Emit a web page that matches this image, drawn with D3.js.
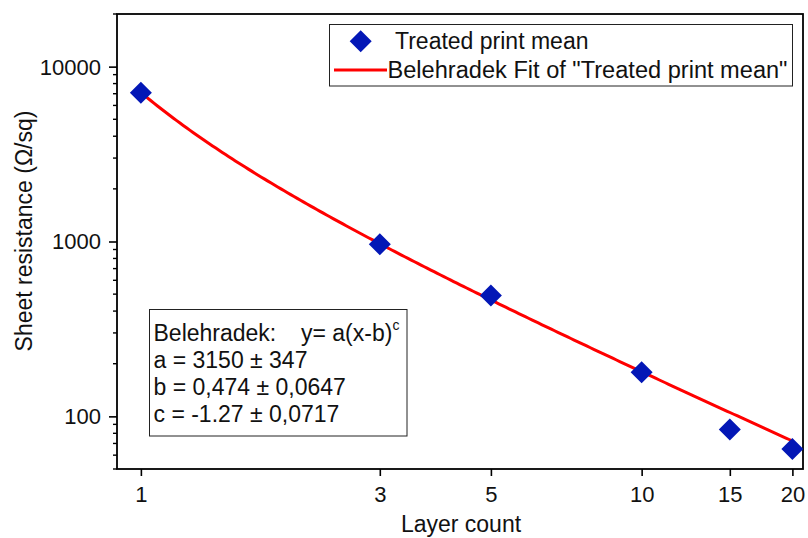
<!DOCTYPE html>
<html>
<head>
<meta charset="utf-8">
<script src="https://cdn.jsdelivr.net/npm/d3@7"></script>
<style>
  html, body { margin: 0; padding: 0; background: #fff; }
  svg { display: block; font-family: "Liberation Sans", Arial, sans-serif; }
</style>
</head>
<body>
<svg id="chart" width="808" height="538"></svg>
<script>
// Measured sheet resistance per number of printed layers
const layers = [1, 3, 5, 10, 15, 20];
const resistance = [7100, 966, 491, 179, 84, 65];

// Belehradek fit parameters: y = a (x - b)^c
const fitNames = ["a", "b", "c"];
const fitValues = [3150, 0.474, -1.27];
const fitErrors = ["347", "0,0647", "0,0717"];
const fitLabels = ["3150", "0,474", "-1.27"];

// Axis ticks
const xTicks = [1, 3, 5, 10, 15, 20];
const yMajor = [100, 1000, 10000];

const seriesName = "Treated print mean";
const fitName = 'Belehradek Fit of "Treated print mean"';

const svg = d3.select("#chart");
const plot = { left: 117, right: 803, top: 14, bottom: 469 };

const x = d3.scaleLog().domain([0.896, 21.0]).range([plot.left, plot.right]);
const y = d3.scaleLog().domain([50, 20000]).range([plot.bottom, plot.top]);

const blue = "#0317b6";
const red = "#ff0000";

// Minor ticks on the log y axis: 2..9 within each decade
const yMinor = [];
for (let e = 1; e <= 4; e++) {
  for (let m = 2; m <= 9; m++) {
    const v = m * Math.pow(10, e);
    if (v >= 50 && v <= 20000 && !yMajor.includes(v)) yMinor.push(v);
  }
}

// Y axis
const yAxis = d3.axisLeft(y).tickValues(yMajor).tickSize(8).tickSizeOuter(0)
  .tickFormat(d3.format("d")).tickPadding(8);
const gy = svg.append("g").attr("transform", `translate(${plot.left},0)`).call(yAxis);
gy.select(".domain").remove();
gy.selectAll(".tick line").attr("stroke", "#000").attr("stroke-width", 1.6);
gy.selectAll(".tick text").attr("font-size", 22).attr("fill", "#111")
  .attr("font-family", "Liberation Sans, Arial, sans-serif").attr("dy", "0.34em");

svg.append("g").selectAll("line").data(yMinor).join("line")
  .attr("x1", plot.left - 4).attr("x2", plot.left)
  .attr("y1", d => y(d)).attr("y2", d => y(d))
  .attr("stroke", "#000").attr("stroke-width", 1.4);

// X axis
const xAxis = d3.axisBottom(x).tickValues(xTicks).tickSize(7).tickSizeOuter(0)
  .tickFormat(d3.format("d")).tickPadding(10);
const gx = svg.append("g").attr("transform", `translate(0,${plot.bottom})`).call(xAxis);
gx.select(".domain").remove();
gx.selectAll(".tick line").attr("stroke", "#000").attr("stroke-width", 1.6);
gx.selectAll(".tick text").attr("font-size", 22).attr("fill", "#111")
  .attr("font-family", "Liberation Sans, Arial, sans-serif");

// Plot frame
svg.append("rect")
  .attr("x", plot.left).attr("y", plot.top)
  .attr("width", plot.right - plot.left).attr("height", plot.bottom - plot.top)
  .attr("fill", "none").attr("stroke", "#000").attr("stroke-width", 1.8);

// Axis titles
svg.append("text").attr("x", 461).attr("y", 532).attr("text-anchor", "middle")
  .attr("font-size", 23).attr("fill", "#111").text("Layer count");
svg.append("text").attr("transform", "translate(32,231) rotate(-90)")
  .attr("text-anchor", "middle").attr("font-size", 23).attr("fill", "#111")
  .text("Sheet resistance (\u03A9/sq)");

// Fit curve
const [a, b, c] = fitValues;
const curveX = d3.range(0, 201).map(i => Math.pow(10, Math.log10(1) + (Math.log10(20) - Math.log10(1)) * i / 200));
const curve = curveX.map(v => [v, a * Math.pow(v - b, c)]);
svg.append("path").datum(curve)
  .attr("d", d3.line().x(d => x(d[0])).y(d => y(d[1])))
  .attr("fill", "none").attr("stroke", red).attr("stroke-width", 3);

// Data points as diamonds
const diamond = d3.symbol().type(d3.symbolSquare).size(242);
svg.append("g").selectAll("path").data(layers).join("path")
  .attr("d", diamond)
  .attr("transform", (d, i) => `translate(${x(d)},${y(resistance[i])}) rotate(45)`)
  .attr("fill", blue);

// Legend
const lg = svg.append("g");
lg.append("rect").attr("x", 329.5).attr("y", 24.5).attr("width", 463).attr("height", 61.5)
  .attr("fill", "#fff").attr("stroke", "#222").attr("stroke-width", 1);
lg.append("path").attr("d", diamond).attr("transform", "translate(360.7,41.3) rotate(45)").attr("fill", blue);
lg.append("text").attr("x", 395).attr("y", 48.5).attr("font-size", 23).attr("fill", "#111").text(seriesName);
lg.append("line").attr("x1", 334).attr("x2", 387).attr("y1", 70).attr("y2", 70)
  .attr("stroke", red).attr("stroke-width", 3);
lg.append("text").attr("x", 387.5).attr("y", 77.5).attr("font-size", 23).attr("fill", "#111")
  .attr("textLength", 400).attr("lengthAdjust", "spacingAndGlyphs").text(fitName);

// Fit parameter box
const fb = svg.append("g");
fb.append("rect").attr("x", 149.5).attr("y", 309.5).attr("width", 257.5).attr("height", 126.5)
  .attr("fill", "#fff").attr("stroke", "#222").attr("stroke-width", 1);
const t0 = fb.append("text").attr("x", 153.5).attr("y", 341).attr("font-size", 23).attr("fill", "#111");
t0.append("tspan").text("Belehradek:");
t0.append("tspan").attr("x", 301).text("y= a(x-b)");
t0.append("tspan").attr("font-size", 14).attr("dy", -11).text("c");
fitNames.forEach((n, i) => {
  fb.append("text").attr("x", 153.5).attr("y", 368 + i * 27.2)
    .attr("font-size", 23).attr("fill", "#111")
    .text(`${n} = ${fitLabels[i]} \u00B1 ${fitErrors[i]}`);
});
</script>
</body>
</html>
